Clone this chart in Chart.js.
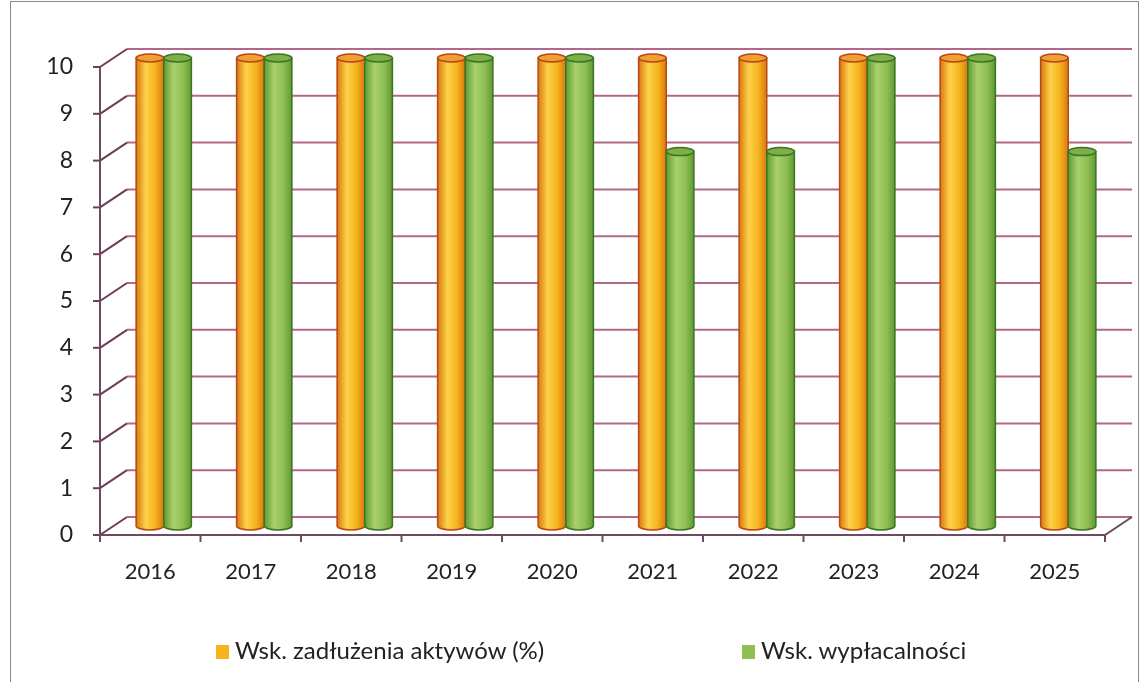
<!DOCTYPE html>
<html>
<head>
<meta charset="utf-8">
<script src="https://cdn.jsdelivr.net/npm/chart.js@4"></script>
<style>
    body { margin: 0; background: #fff; }
    #wrap { position: relative; width: 1141px; height: 682px; }
    #frame { position: absolute; left: 10px; top: 1px; width: 1127px; height: 700px; border: 1px solid #8a8a8a; }
    .legend-item { position: absolute; top: 635px; font: 24px Lato, sans-serif; color: #222; white-space: nowrap; }
    .legend-item span { display: inline-block; width: 13px; height: 14px; margin-right: 6px; vertical-align: 0px; }
</style>
</head>
<body>
<div id="wrap">
    <div id="frame"></div>
    <canvas id="chart" width="1141" height="682"></canvas>
    <div class="legend-item" style="left:216px"><span style="background:#f5b41c"></span>Wsk. zadłużenia aktywów (%)</div>
    <div class="legend-item" style="left:742px"><span style="background:#8fbf52"></span>Wsk. wypłacalności</div>
</div>
<script>
const years = ['2016', '2017', '2018', '2019', '2020', '2021', '2022', '2023', '2024', '2025'];
const debtRatio = [10, 10, 10, 10, 10, 10, 10, 10, 10, 10];
const solvency = [10, 10, 10, 10, 10, 8, 8, 10, 10, 8];
const yMax = 10;
const yStep = 1;

// depth of the fake 3d box
const DX = 27, DY = 18;

const barLooks = [
    { body: '#f5b41c', light: '#fdd24a', dark: '#d9780f', edge: '#b8461a', top: '#f0a030' },
    { body: '#8fbf52', light: '#a9d06c', dark: '#5f9a32', edge: '#3b7424', top: '#7fb048' }
];

const box3d = {
    id: 'box3d',
    beforeDatasetsDraw(chart) {
        const ctx = chart.ctx;
        const a = chart.chartArea;
        const y = chart.scales.y;
        const y0 = y.getPixelForValue(0);
        ctx.save();
        ctx.lineWidth = 2;
        y.ticks.forEach(t => {
            const py = y.getPixelForValue(t.value);
            // back wall line
            ctx.strokeStyle = '#b2678c';
            ctx.beginPath();
            ctx.moveTo(a.left + DX, py - DY);
            ctx.lineTo(a.right + DX, py - DY);
            ctx.stroke();
            // side wall diagonal
            ctx.strokeStyle = '#6e3c56';
            ctx.beginPath();
            ctx.moveTo(a.left, py);
            ctx.lineTo(a.left + DX, py - DY);
            ctx.stroke();
            // little tick on the left
            ctx.beginPath();
            ctx.moveTo(a.left - 7, py);
            ctx.lineTo(a.left, py);
            ctx.stroke();
        });
        // front axes and floor
        ctx.strokeStyle = '#6e4a5e';
        ctx.beginPath();
        ctx.moveTo(a.left, y.getPixelForValue(yMax));
        ctx.lineTo(a.left, y0);
        ctx.lineTo(a.right, y0);
        ctx.lineTo(a.right + DX, y0 - DY);
        ctx.stroke();
        for (let i = 0; i <= years.length; i++) {
            const px = a.left + (a.right - a.left) * i / years.length;
            ctx.beginPath();
            ctx.moveTo(px, y0);
            ctx.lineTo(px, y0 + 7);
            ctx.stroke();
        }
        ctx.restore();
        // bars sit half way into the box
        ctx.save();
        ctx.translate(DX / 2, -DY / 2);
    },
    afterDatasetsDraw(chart) {
        const ctx = chart.ctx;
        chart.data.datasets.forEach((ds, di) => {
            const look = barLooks[di];
            chart.getDatasetMeta(di).data.forEach(bar => {
                const l = bar.x - bar.width / 2;
                const r = bar.x + bar.width / 2;
                const g = ctx.createLinearGradient(l, 0, r, 0);
                g.addColorStop(0, look.dark);
                g.addColorStop(0.35, look.light);
                g.addColorStop(0.7, look.body);
                g.addColorStop(1, look.dark);
                const rx = bar.width / 2, ry = 4;
                // body with rounded bottom
                ctx.beginPath();
                ctx.moveTo(l, bar.y);
                ctx.lineTo(l, bar.base);
                ctx.ellipse(bar.x, bar.base, rx, ry, 0, Math.PI, 0, true);
                ctx.lineTo(r, bar.y);
                ctx.closePath();
                ctx.fillStyle = g;
                ctx.fill();
                ctx.lineWidth = 1.5;
                ctx.strokeStyle = look.edge;
                ctx.stroke();
                // top cap
                ctx.beginPath();
                ctx.ellipse(bar.x, bar.y, rx, ry, 0, 0, Math.PI * 2);
                ctx.fillStyle = look.top;
                ctx.fill();
                ctx.stroke();
            });
        });
        ctx.restore();
    }
};

new Chart(document.getElementById('chart'), {
    type: 'bar',
    data: {
        labels: years,
        datasets: [
            { label: 'Wsk. zadłużenia aktywów (%)', data: debtRatio, backgroundColor: barLooks[0].body, clip: false },
            { label: 'Wsk. wypłacalności', data: solvency, backgroundColor: barLooks[1].body, clip: false }
        ]
    },
    options: {
        responsive: false,
        animation: false,
        layout: { padding: { left: 10, right: 36, top: 67, bottom: 0 } },
        datasets: { bar: { categoryPercentage: 0.55, barPercentage: 1.0 } },
        plugins: {
            legend: { display: false },
            tooltip: { enabled: false }
        },
        scales: {
            x: {
                grid: { display: false },
                border: { display: false },
                ticks: { padding: 16, color: '#222', font: { family: 'Lato', size: 22 } },
                afterFit(axis) { axis.height = 682 - 535; }
            },
            y: {
                min: 0,
                max: yMax,
                grid: { display: false },
                border: { display: false },
                ticks: { stepSize: yStep, padding: 19, color: '#222', font: { family: 'Lato', size: 23 } },
                afterFit(axis) { axis.width = 90; }
            }
        }
    },
    plugins: [box3d]
});
</script>
</body>
</html>
